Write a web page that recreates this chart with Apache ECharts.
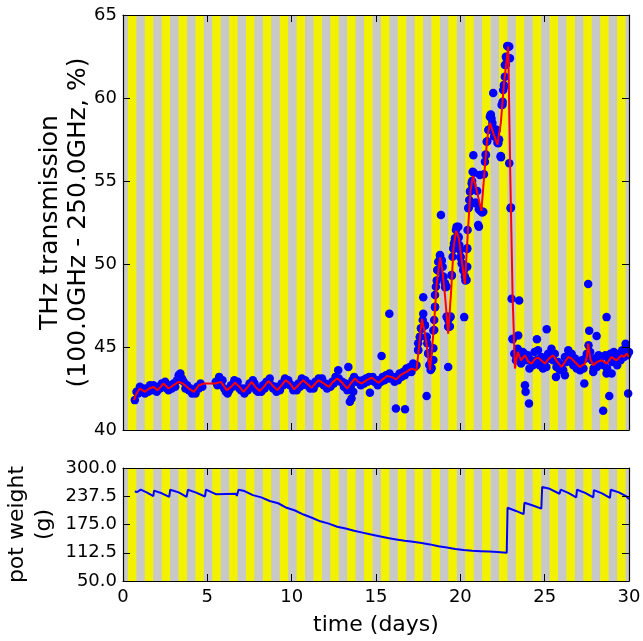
<!DOCTYPE html>
<html><head><meta charset="utf-8">
<script src="https://cdn.jsdelivr.net/npm/echarts@6.0.0/dist/echarts.min.js"></script>
<style>html,body{margin:0;padding:0;background:#fff}#c{width:643px;height:641px}</style>
</head><body><div id="c"></div>
<script>
// ---------- DATA ----------
// light schedule (hours): lights on 07:00, off 19:00 -> grey = dark period
const lightsOn = 7, lightsOff = 19;
const dayMax = 30;

// THz transmission measurements (blue dots), sampled every 0.1 day from day 0.7
const blueStart = 0.7, blueStep = 0.1;
const blueVals = [
  41.8, 42.3, 42.2,
  42.6, 42.3, 42.5, 42.2, 42.5, 42.3, 42.7, 42.4, 42.7, 42.4,
  42.3, 42.6, 42.5, 42.8, 42.7, 42.9, 42.5, 42.4, 42.7, 42.5,
  42.8, 42.6, 43.0, 43.3, 43.4, 43.1, 42.9, 42.5, 42.7, 42.4,
  42.5, 42.2, 42.4, 42.2, 42.6, 42.5, 42.8, 42.6, null, null,
  null, null, null, null, null, 42.9, 42.7, 43.2, 42.8, 43.0,
  42.5, 42.3, 42.2, 42.4, 42.7, 42.6, 43.0, 42.7, 42.9, 42.5,
  42.4, 42.5, 42.2, 42.5, 42.4, 42.8, 42.6, 43.0, 42.8, 42.4,
  42.3, 42.5, 42.3, 42.7, 42.5, 42.9, 42.8, 43.1, 42.7, 42.5,
  42.6, 42.3, 42.6, 42.4, 42.8, 42.7, 43.1, 42.8, 43.0, 42.7,
  42.7, 42.4, 42.6, 42.4, 42.8, 42.6, 43.1, 42.9, 43.0, 42.7,
  42.8, 42.5, 42.7, 42.5, 42.9, 42.8, 43.1, 42.9, 43.1, 42.7,
  42.8, 42.5, 42.7, 42.6, 42.9, 42.8, 43.2, 43.0, 43.1, 42.9,
  42.9, 42.6, 42.8, 42.4, 42.7, 42.6, 43.0, 43.2, 42.9, 43.0,
  42.9, 42.7, 43.0, 42.8, 43.1, 42.9, 43.2, 43.0, 43.2, 42.9,
  43.0, 42.7, 43.0, 42.9, 43.2, 43.0, 43.3, 43.1, 43.4, 43.1,
  43.2, 42.9, 43.2, 43.0, 43.4, 43.2, 43.5, 43.3, 43.7, 43.5,
  43.8, 43.5, 44.0, 43.8, 43.9, 44.8, 45.6, 46.1, 47.0, 46.3,
  45.6, 44.6, 43.9, 44.2, 46.0, 47.4, 49.0, 49.6, 50.5, 50.2,
  49.2, 48.6, 46.8, 46.2, 46.8, 49.3, 50.9, 51.5, 52.2, 51.6,
  50.4, 50.0, 49.6, 49.0, 50.9, 53.4, 54.4, 55.0, 55.5, 53.7,
  54.4, 53.3, 53.2, 53.1, 55.4, 56.6, 57.4, 58.1, 59.0, 58.5,
  57.7, 58.1, 57.3, 57.5, 56.5, 59.6, 60.7, 62.0, 62.4, 63.1,
  53.4, 45.5, 44.6, 44.2, 44.9, 44.3, 44.0, 44.7, 44.6, 44.2,
  44.5, 43.7, 44.2, 43.9, 44.7, 44.2, 44.8, 43.9, 44.4, 43.7,
  44.2, 43.8, 44.6, 44.3, 44.9, 44.2, 44.6, 43.8, 44.1, 43.6,
  43.9, 43.6, 44.4, 44.1, 44.8, 44.2, 44.6, 43.9, 44.3, 43.7,
  44.0, 43.6, 44.2, 43.7, 44.3, 44.6, 45.1, 44.7, 44.2, 43.7,
  44.3, 43.8, 44.5, 44.0, 44.4, 43.9, 44.5, 43.7, 44.3, 44.6,
  44.1, 44.7, 44.3, 43.9, 44.6, 44.2, 44.8, 44.4, 44.9, 44.5,
  44.7
];

// extra / scattered measurements (days, %)
const extraT = [12.76, 13.36, 13.45, 13.55, 13.65, 14.64, 15.33, 15.79, 16.18, 16.72,
  17.8, 18.0, 18.85, 19.28, 20.23, 21.1, 20.77, 21.95, 22.41, 22.9,
  22.98, 23.04, 23.49, 23.1, 23.43, 23.83, 23.87, 24.07, 24.54, 25.12,
  25.67, 26.2, 27.35, 27.58, 27.64, 28.08, 28.67, 28.83, 28.47, 28.67,
  28.97, 29.95, 29.8, 27.88,
  17.5, 17.5, 17.6, 17.66, 17.77, 17.9, 18.0, 18.04, 18.1, 18.16,
  18.24, 18.3, 18.4, 18.4, 18.45, 18.45, 18.5, 18.5, 18.55, 18.63,
  18.69, 18.79, 18.89, 18.95, 18.99, 19.09, 19.19, 19.19, 19.28, 19.28,
  19.38, 19.42, 19.48, 19.54, 19.58, 19.62, 19.68, 19.74, 19.78, 19.88,
  19.88, 19.94, 19.98, 20.02, 20.08, 20.17, 20.27, 20.37, 20.41, 20.41,
  20.43, 20.47, 20.53, 20.57, 20.67, 20.73, 20.71, 20.87, 21.16, 21.36,
  21.06, 21.46, 21.52, 21.56, 21.66, 21.75, 21.81, 21.85, 22.05, 22.15,
  22.25, 22.39, 22.45, 22.51, 22.54, 22.58, 22.64, 22.64, 22.74, 22.84,
  22.94, 22.7, 22.78];
const extraV = [43.6, 43.8, 41.7, 41.9, 42.3, 42.25, 44.46, 47.0, 41.3, 41.25,
  48.0, 42.05, 52.95, 43.8, 46.8, 52.25, 56.55, 60.3, 56.43, 56.07,
  53.36, 47.9, 47.8, 45.47, 45.7, 42.7, 42.3, 41.6, 45.47, 46.07,
  43.2, 43.3, 42.8, 48.8, 45.98, 45.66, 46.8, 42.05, 41.16, 43.4,
  43.4, 42.2, 45.2, 43.5,
  44.82, 45.22, 45.62, 46.13, 46.63, 46.33, 45.62, 45.22, 44.62, 43.92,
  43.61, 43.72, 44.22, 44.92, 46.02, 46.63, 47.43, 48.13, 48.63, 49.64,
  50.14, 50.54, 50.24, 49.84, 49.24, 48.84, 48.63, 46.83, 46.63, 46.23,
  46.23, 46.83, 49.34, 50.44, 50.95, 51.25, 51.55, 52.05, 52.25, 52.25,
  51.65, 51.14, 50.84, 50.44, 50.04, 49.64, 49.24, 49.04, 49.84, 50.95,
  52.05, 53.36, 53.86, 54.36, 54.86, 55.56, 54.76, 53.66, 55.36, 53.15,
  52.35, 56.16, 56.57, 57.37, 58.07, 58.87, 58.98, 58.77, 57.67, 58.07,
  57.27, 56.47, 59.58, 59.78, 60.48, 60.78, 61.28, 61.99, 62.39, 63.09,
  62.39, 62.49, 63.13];

// smoothed THz transmission (red line)
const redT = [0.65, 0.8, 1.0, 1.3, 1.55, 1.8, 2.05, 2.4, 2.7, 3.0,
  3.3, 3.55, 3.9, 4.2, 4.5, 4.8, 5.5, 5.8, 6.15, 6.4,
  6.65, 6.9, 7.15, 7.4, 7.63, 7.85, 8.1, 8.35, 8.62, 8.85,
  9.15, 9.4, 9.65, 9.9, 10.15, 10.4, 10.68, 10.9, 11.18, 11.4,
  11.6, 11.9, 12.2, 12.45, 12.7, 12.95, 13.3, 13.5, 13.75, 13.95,
  14.15, 14.45, 14.75, 14.95, 15.15, 15.4, 15.65, 15.9, 16.2, 16.45,
  16.8, 17.1, 17.4, 17.55, 17.72, 17.9, 18.05, 18.2, 18.4, 18.6,
  18.8, 18.95, 19.1, 19.28, 19.45, 19.6, 19.75, 19.9, 20.1, 20.27,
  20.45, 20.6, 20.75, 21.0, 21.25, 21.45, 21.6, 21.75, 21.95, 22.2,
  22.4, 22.6, 22.84, 22.95, 23.1, 23.24, 23.4, 23.6, 23.83, 24.05,
  24.22, 24.45, 24.62, 25.01, 25.25, 25.5, 25.75, 26.0, 26.2, 26.4,
  26.6, 26.79, 27.09, 27.39, 27.5, 27.58, 27.7, 27.88, 28.1, 28.38,
  28.67, 28.97, 29.1, 29.26, 29.56, 29.7, 29.86, 30.0];
const redV = [41.8, 42.2, 42.5, 42.3, 42.5, 42.6, 42.4, 42.8, 42.5, 42.7,
  42.9, 42.8, 42.5, 42.3, 42.7, 42.8, 42.8, 42.9, 42.4, 42.6,
  42.85, 42.6, 42.3, 42.6, 42.9, 42.6, 42.35, 42.6, 42.95, 42.7,
  42.4, 42.7, 43.0, 42.8, 42.45, 42.7, 43.0, 42.8, 42.55, 42.8,
  43.0, 42.8, 42.6, 42.9, 43.1, 42.9, 42.5, 42.8, 43.1, 42.9,
  42.8, 43.0, 43.15, 43.0, 42.85, 43.05, 43.25, 43.2, 43.05, 43.3,
  43.5, 43.7, 43.6, 45.0, 46.7, 45.8, 44.8, 43.6, 45.8, 48.8,
  50.4, 49.5, 48.0, 45.8, 48.3, 51.0, 52.0, 51.6, 50.1, 48.8,
  52.0, 54.4, 55.3, 54.3, 53.2, 55.8, 57.6, 58.5, 57.9, 57.2,
  58.5, 61.0, 63.1, 56.0, 48.0, 43.7, 44.7, 44.2, 44.5, 44.1,
  44.0, 44.3, 44.35, 44.0, 44.3, 44.5, 44.1, 43.8, 44.1, 44.4,
  44.3, 44.1, 43.8, 44.0, 44.4, 45.2, 44.3, 43.9, 44.1, 44.2,
  44.0, 44.4, 44.3, 44.2, 44.5, 44.4, 44.6, 44.4];

// pot weight (g)
const wT = [0.7, 0.85, 0.9, 0.95, 1.05, 1.4, 1.8, 1.84, 2.3, 2.74,
  2.8, 3.3, 3.77, 3.85, 4.3, 4.86, 4.92, 5.5, 6.7, 6.75,
  6.85, 7.2, 7.7, 8.2, 8.7, 9.2, 9.7, 10.2, 10.7, 11.2,
  11.7, 12.2, 12.7, 13.2, 13.7, 14.2, 14.7, 15.2, 15.7, 16.2,
  16.7, 17.2, 17.7, 18.2, 18.7, 19.2, 19.7, 20.2, 20.7, 21.2,
  21.7, 22.2, 22.75, 22.8, 23.3, 23.75, 23.8, 24.3, 24.8, 24.85,
  25.3, 25.88, 25.95, 26.4, 26.87, 26.92, 27.4, 27.88, 27.92, 28.4,
  28.87, 28.92, 29.4, 29.85, 30.0];
const wV = [248, 247, 245, 246, 252, 246, 238, 250, 244, 236,
  252, 246, 236, 252, 246, 237, 252, 242, 243, 238,
  252, 249, 240, 235, 227, 222, 212, 206, 197, 190,
  182, 177, 170, 166, 161, 157, 153, 149, 145, 142,
  139, 137, 134, 131, 127, 124, 121, 118.5, 117, 116,
  115, 114, 112.5, 212, 205, 198, 223, 217, 210, 258,
  254, 243, 252, 245, 235, 252, 245, 235, 251, 244,
  234, 252, 246, 237, 231];

// axis ticks
const thzTicks = {min: 40, max: 65, step: 5};
const wTicks = {min: 50, max: 300, step: 62.5};
const dayTicks = {min: 0, max: 30, step: 5};

// ---------- BUILD ----------
const FONT = 'DejaVu Sans';
const YELLOW = '#f2f200', GREY = '#c8c8c8', BLUE = '#0000ff', RED = '#ff0000';

const nights = [];
for (let d = 0; d <= dayMax; d++) {
  const a = Math.max(0, d - (24 - lightsOff) / 24);
  const b = Math.min(dayMax, d + lightsOn / 24);
  if (b > a) nights.push([a, b]);
}

const blueData = [];
blueVals.forEach((v, i) => { if (v != null) blueData.push([Math.round((blueStart + i * blueStep) * 100) / 100, v]); });
extraT.forEach((t, i) => blueData.push([t, extraV[i]]));
const redData = redT.map((t, i) => [t, redV[i]]);
const wData = wT.map((t, i) => [t, wV[i]]);

const tick = {show: true, inside: true, length: 7, lineStyle: {color: '#000', width: 1}};
const line = {show: true, onZero: false, lineStyle: {color: '#000', width: 1.2}};
const lab = {fontFamily: FONT, fontSize: 18, color: '#000'};

function xAx(grid, pos, showLabel, name) {
  return {
    type: 'value', gridIndex: grid, position: pos, min: dayTicks.min, max: dayTicks.max, interval: dayTicks.step,
    axisLine: line, axisTick: tick, splitLine: {show: false}, z: 10,
    axisLabel: Object.assign({show: showLabel, margin: 7}, lab),
    name: name || '', nameLocation: 'middle', nameGap: 33, nameMoveOverlap: false,
    nameTextStyle: {fontFamily: FONT, fontSize: 22, color: '#000'}
  };
}
function yAx(grid, pos, t, showLabel, name, gap, fmt, fs, lh) {
  return {
    type: 'value', gridIndex: grid, position: pos, min: t.min, max: t.max, interval: t.step,
    axisLine: line, axisTick: tick, splitLine: {show: false}, z: 10,
    axisLabel: Object.assign({show: showLabel, margin: 6, formatter: fmt}, lab),
    name: name || '', nameLocation: 'middle', nameGap: gap || 0, nameRotate: 90, nameMoveOverlap: false,
    nameTextStyle: {fontFamily: FONT, fontSize: fs || 22, color: '#000', lineHeight: lh || 27, align: 'center'}
  };
}

function stripes(xi, yi) {
  return {
    type: 'custom', xAxisIndex: xi, yAxisIndex: yi, z: 1, silent: true, clip: true,
    data: nights,
    renderItem: function (params, api) {
      const cs = params.coordSys;
      const p0 = api.coord([api.value(0), thzTicks.min]);
      const p1 = api.coord([api.value(1), thzTicks.min]);
      return {type: 'rect', shape: {x: p0[0], y: cs.y, width: p1[0] - p0[0], height: cs.height},
        style: {fill: GREY}};
    }
  };
}

const chart = echarts.init(document.getElementById('c'), null, {renderer: 'canvas'});
chart.setOption({
  animation: false,
  backgroundColor: '#fff',
  grid: [
    {left: 123, right: 14, top: 15, height: 415, show: true, backgroundColor: YELLOW, borderWidth: 0,
      containLabel: false, outerBoundsMode: 'none'},
    {left: 123, right: 14, top: 468, height: 113, show: true, backgroundColor: YELLOW, borderWidth: 0,
      containLabel: false, outerBoundsMode: 'none'}
  ],
  xAxis: [
    xAx(0, 'bottom', false),
    xAx(0, 'top', false),
    xAx(1, 'bottom', true, 'time (days)'),
    xAx(1, 'top', false)
  ],
  yAxis: [
    yAx(0, 'left', thzTicks, true, 'THz transmission\n(100.0GHz - 250.0GHz, %)', 31, v => String(v), 25, 28),
    yAx(0, 'right', thzTicks, false),
    yAx(1, 'left', wTicks, true, 'pot weight\n(g)', 65, v => v.toFixed(1), 22, 27),
    yAx(1, 'right', wTicks, false)
  ],
  series: [
    stripes(0, 0),
    stripes(2, 2),
    {type: 'scatter', xAxisIndex: 0, yAxisIndex: 0, z: 3, symbolSize: 8.5, silent: true,
      itemStyle: {color: BLUE, opacity: 1}, data: blueData},
    {type: 'line', xAxisIndex: 0, yAxisIndex: 0, z: 4, showSymbol: false, silent: true,
      lineStyle: {color: RED, width: 2}, data: redData},
    {type: 'line', xAxisIndex: 2, yAxisIndex: 2, z: 4, showSymbol: false, silent: true,
      lineStyle: {color: BLUE, width: 2}, data: wData}
  ]
});
</script></body></html>
